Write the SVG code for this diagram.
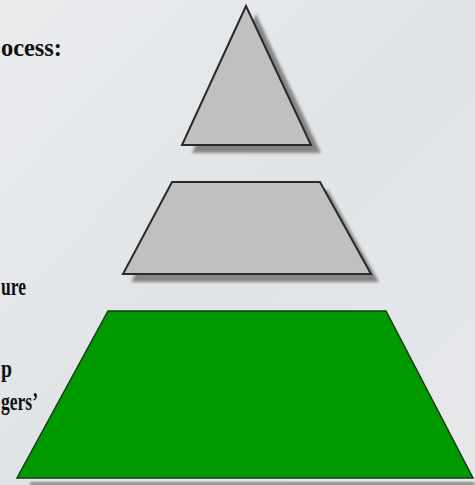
<svg xmlns="http://www.w3.org/2000/svg" width="475" height="485" viewBox="0 0 475 485">
<defs>
<linearGradient id="bg" x1="0" y1="0" x2="1" y2="1">
<stop offset="0" stop-color="#eaecee"/>
<stop offset="0.5" stop-color="#e1e4e7"/>
<stop offset="1" stop-color="#e6e8ea"/>
</linearGradient>
<filter id="soft" x="-10%" y="-10%" width="120%" height="120%">
<feGaussianBlur stdDeviation="1.5"/>
</filter>
<style>
.shadow{fill:#858585;filter:url(#soft);}
.gray{fill:#c0c0c0;stroke:#2a2a2a;stroke-width:2;stroke-linejoin:miter;}
.green{fill:#009a00;stroke:#1a3a1a;stroke-width:1.5;}
.lbl{font-family:"Liberation Serif","Times New Roman",serif;font-weight:bold;font-size:26px;fill:#111;}
</style>
</defs>
<rect x="0" y="0" width="475" height="485" fill="url(#bg)"/>
<g id="labels">
<text class="lbl" x="1" y="56" textLength="61" lengthAdjust="spacingAndGlyphs">ocess:</text>
<text class="lbl" x="1" y="295" textLength="25" lengthAdjust="spacingAndGlyphs">ure</text>
<text class="lbl" x="1" y="377" textLength="11" lengthAdjust="spacingAndGlyphs">p</text>
<text class="lbl" x="1" y="410" textLength="37" lengthAdjust="spacingAndGlyphs">gers’</text>
</g>
<g id="top">
<polygon class="shadow" points="256,14 321,153 192,153"/>
<polygon class="gray" points="246,6 311,145 182,145"/>
</g>
<g id="middle">
<polygon class="shadow" points="180,190 328,190 379,282 131,282"/>
<polygon class="gray" points="172,182 320,182 371,274 123,274"/>
</g>
<g id="bottom">
<polygon class="shadow" points="30,482 475,482 475,486 30,486"/>
<polygon class="green" points="108,311 386,311 473,478 17,478"/>
</g>
<g id="connectors"/>
</svg>
